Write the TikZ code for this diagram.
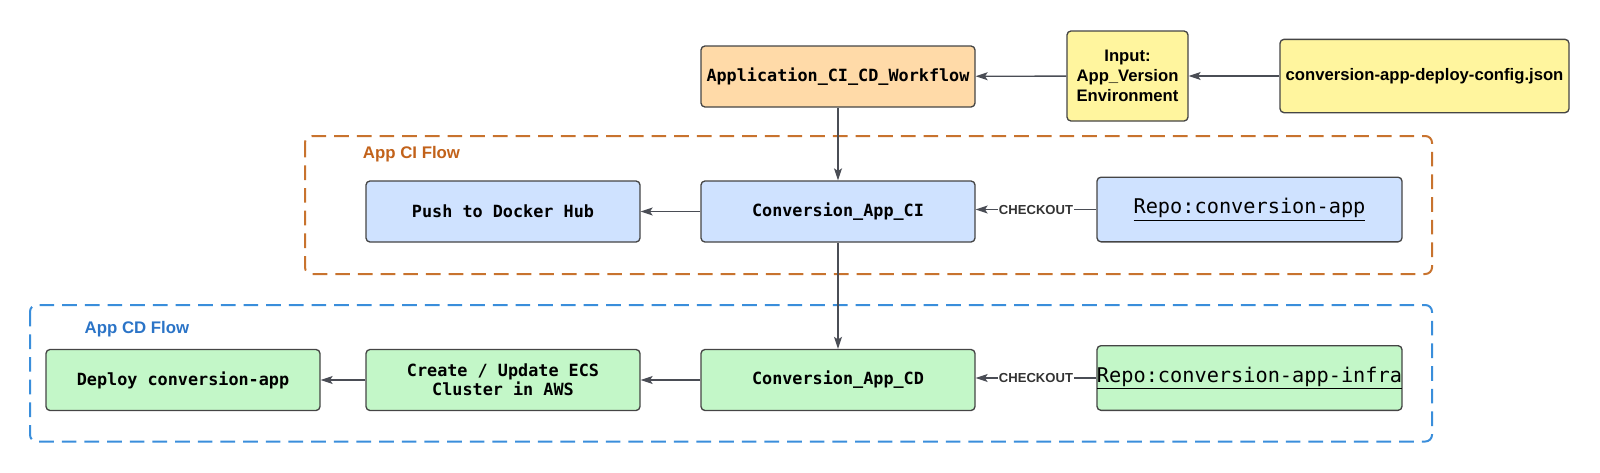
\documentclass[tikz,border=0pt]{standalone}
\usepackage{fontspec}
\setmainfont{Liberation Sans}
\newfontfamily\boxmono{DejaVu Sans Mono}
\usepackage{tikz}
\usepackage{xcolor}
\usetikzlibrary{arrows.meta, positioning}

\definecolor{wforange}{HTML}{FFDAA8}
\definecolor{inyellow}{HTML}{FFF59E}
\definecolor{ciblue}{HTML}{CFE2FF}
\definecolor{cdgreen}{HTML}{C3F7C8}
\definecolor{boxline}{HTML}{454545}
\definecolor{flowgray}{HTML}{4A4D55}
\definecolor{ciframe}{HTML}{C8732E}
\definecolor{citext}{HTML}{C2621A}
\definecolor{cdframe}{HTML}{3A8EDB}
\definecolor{cdtext}{HTML}{2B74C7}

\begin{document}
\begin{tikzpicture}[x=0.75pt, y=0.75pt,
    jobbox/.style={draw=boxline, line width=1pt, rounded corners=3pt, inner sep=0pt, align=center,
        minimum width=205.5pt, minimum height=45.75pt,
        font=\boxmono\bfseries\fontsize{12.6}{14.5}\selectfont},
    inbox/.style={draw=boxline, line width=1pt, rounded corners=3pt, inner sep=0pt, align=center,
        fill=inyellow, font=\bfseries\fontsize{12.5}{15}\selectfont},
    repobox/.style={draw=boxline, line width=1pt, rounded corners=3pt, inner sep=0pt,
        minimum width=228.75pt, minimum height=48.5pt,
        font=\boxmono\fontsize{15.2}{17}\selectfont},
    flow/.style={draw=flowgray, line width=1pt, -{Stealth[length=9pt, width=6pt, inset=2pt]}},
    checkout/.style={fill=white, inner sep=1pt, text=black!80, font=\bfseries\fontsize{9.8}{11}\selectfont},
    frame/.style={line width=1.5pt, rounded corners=5pt, dash pattern=on 11pt off 6pt},
    framelabel/.style={font=\bfseries\fontsize{12.6}{14}\selectfont}]
    \useasboundingbox (0, 0) rectangle (1600, -472);

    % workflow and its inputs
    \node[jobbox, fill=wforange] (wf) at (838, -76.5) {Application\_CI\_CD\_Workflow};
    \node[inbox, minimum width=90.75pt, minimum height=67.5pt] (input) at (1127.5, -76) {Input:\\App\_Version\\Environment};
    \node[inbox, minimum width=216.75pt, minimum height=55pt] (cfg) at (1424.5, -76) {conversion-app-deploy-config.json};

    % CI flow
    \draw[frame, ciframe] (305, -136) rectangle (1432, -274);
    \node[framelabel, text=citext] (cilabel) at (411.5, -154) {App CI Flow};
    \node[jobbox, fill=ciblue] (push) at (503, -211.5) {Push to Docker Hub};
    \node[jobbox, fill=ciblue] (ci) at (838, -211.5) {Conversion\_App\_CI};
    \node[repobox, fill=ciblue] (repo) at (1249.5, -209.5) {\underline{Repo:conversion-app}};

    % CD flow
    \draw[frame, cdframe] (30, -305) rectangle (1432, -441.5);
    \node[framelabel, text=cdtext] (cdlabel) at (137, -329) {App CD Flow};
    \node[jobbox, fill=cdgreen] (deploy) at (183, -380) {Deploy conversion-app};
    \node[jobbox, fill=cdgreen] (ecs) at (503, -380) {Create / Update ECS\\Cluster in AWS};
    \node[jobbox, fill=cdgreen] (cd) at (838, -380) {Conversion\_App\_CD};
    \node[repobox, fill=cdgreen] (infra) at (1249.5, -378) {\underline{Repo:conversion-app-infra}};

    \draw[flow] (cfg) -- (input);
    \draw[flow] (input) -- (wf);
    \draw[flow] (wf) -- (ci);
    \draw[flow] (ci) -- (cd);
    \draw[flow] (ci) -- (push);
    \draw[flow] (cd) -- (ecs);
    \draw[flow] (ecs) -- (deploy);
    \draw[flow] (repo.west) -- node[checkout] {CHECKOUT} (repo.west -| ci.east);
    \draw[flow] (infra.west) -- node[checkout] {CHECKOUT} (infra.west -| cd.east);
\end{tikzpicture}
\end{document}
